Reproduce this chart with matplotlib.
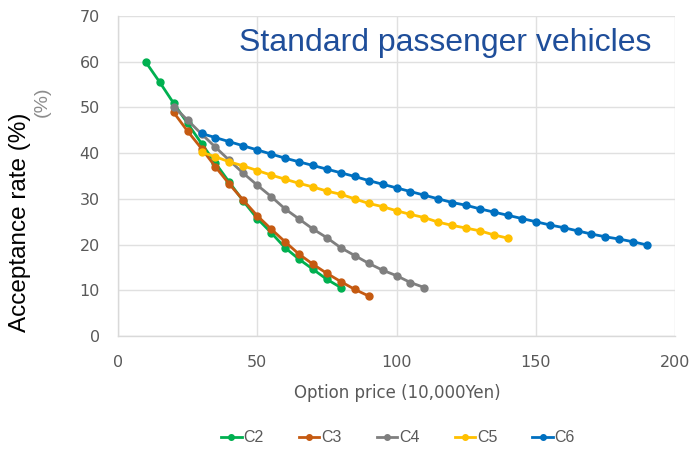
import matplotlib
matplotlib.use("Agg")
import matplotlib.pyplot as plt
from matplotlib.lines import Line2D

plt.rcParams['font.family'] = ['Liberation Sans', 'DejaVu Sans']

x_c2 = list(range(10, 81, 5))
c2 = [59.9, 55.5, 50.9, 46.5, 42.1, 37.8, 33.6, 29.5, 25.7, 22.6, 19.3, 16.8, 14.6, 12.4, 10.6]
x_c3 = list(range(20, 91, 5))
c3 = [48.9, 44.8, 41.0, 37.0, 33.2, 29.7, 26.3, 23.4, 20.6, 17.9, 15.7, 13.7, 11.9, 10.2, 8.75]
x_c4 = list(range(20, 111, 5))
c4 = [50.2, 47.2, 44.2, 41.3, 38.4, 35.6, 33.0, 30.5, 27.8, 25.6, 23.4, 21.5, 19.3,
      17.6, 15.9, 14.4, 13.2, 11.7, 10.6]
x_c5 = list(range(30, 141, 5))
c5 = [40.2, 39.2, 38.1, 37.2, 36.2, 35.2, 34.3, 33.4, 32.6, 31.7, 31.0, 30.0, 29.0,
      28.3, 27.4, 26.6, 25.9, 24.9, 24.2, 23.6, 23.0, 22.1, 21.4]
x_c6 = list(range(30, 191, 5))
c6 = [44.3, 43.4, 42.5, 41.6, 40.7, 39.8, 38.9, 38.1, 37.3, 36.5, 35.7, 34.9, 34.0,
      33.2, 32.4, 31.6, 30.8, 30.0, 29.2, 28.6, 27.8, 27.1, 26.4, 25.7, 25.0, 24.3,
      23.7, 23.0, 22.3, 21.7, 21.2, 20.6, 19.9]

series = [("C2", x_c2, c2, "#00B050"),
          ("C3", x_c3, c3, "#C55A11"),
          ("C4", x_c4, c4, "#7F7F7F"),
          ("C5", x_c5, c5, "#FFC000"),
          ("C6", x_c6, c6, "#0070C0")]

fig = plt.figure(figsize=(6.92, 4.49), dpi=100)
ax = fig.add_axes([118/692, 1-336/449, (675-118)/692, (336-16)/449])

for name, xs, ys, col in series:
    ax.plot(xs, ys, color=col, lw=2.0, marker='o', ms=5, label=name,
            solid_capstyle='round')

ax.set_xlim(0, 200)
ax.set_ylim(0, 70)
ax.set_xticks(range(0, 201, 50))
ax.set_yticks(range(0, 71, 10))
ax.grid(True, color='#E0E0E0', lw=1)
ax.set_axisbelow(True)
for s in ['top', 'right']:
    ax.spines[s].set_visible(False)
for s in ['left', 'bottom']:
    ax.spines[s].set_color('#D9D9D9')
    ax.spines[s].set_linewidth(1)
ax.tick_params(length=0, colors='#595959', labelsize=11.5)
ax.tick_params(axis='y', pad=13)
ax.tick_params(axis='x', pad=14)
for lab in ax.get_xticklabels() + ax.get_yticklabels():
    lab.set_family(['DejaVu Sans'])

ax.text(0.958, 0.962, "Standard passenger vehicles", transform=ax.transAxes,
        ha='right', va='top', fontsize=23, color='#1F4E9A')

fig.text(20/692, 1-222/449, "Acceptance rate (%)", rotation=90, ha='center',
         va='center', fontsize=17.5, color='black')
fig.text(42/692, 1-102/449, "(%)", rotation=90, ha='center', va='center',
         fontsize=14, color='#8C8C8C')

fig.text(397/692, 1-393/449, "Option price (10,000Yen)", ha='center',
         va='center', fontsize=12, color='#595959', family=['DejaVu Sans'])

handles = [Line2D([0], [0], color=c, lw=2, marker='o', ms=4) for _, _, _, c in series]
leg = fig.legend(handles, [s[0] for s in series], loc='center',
                 bbox_to_anchor=(398/692, 1-438/449), ncol=5, frameon=False,
                 fontsize=11.5, handlelength=1.3, columnspacing=2.2,
                 handletextpad=0.1)
for t in leg.get_texts():
    t.set_color('#595959')

fig.savefig("out.png", dpi=100)
